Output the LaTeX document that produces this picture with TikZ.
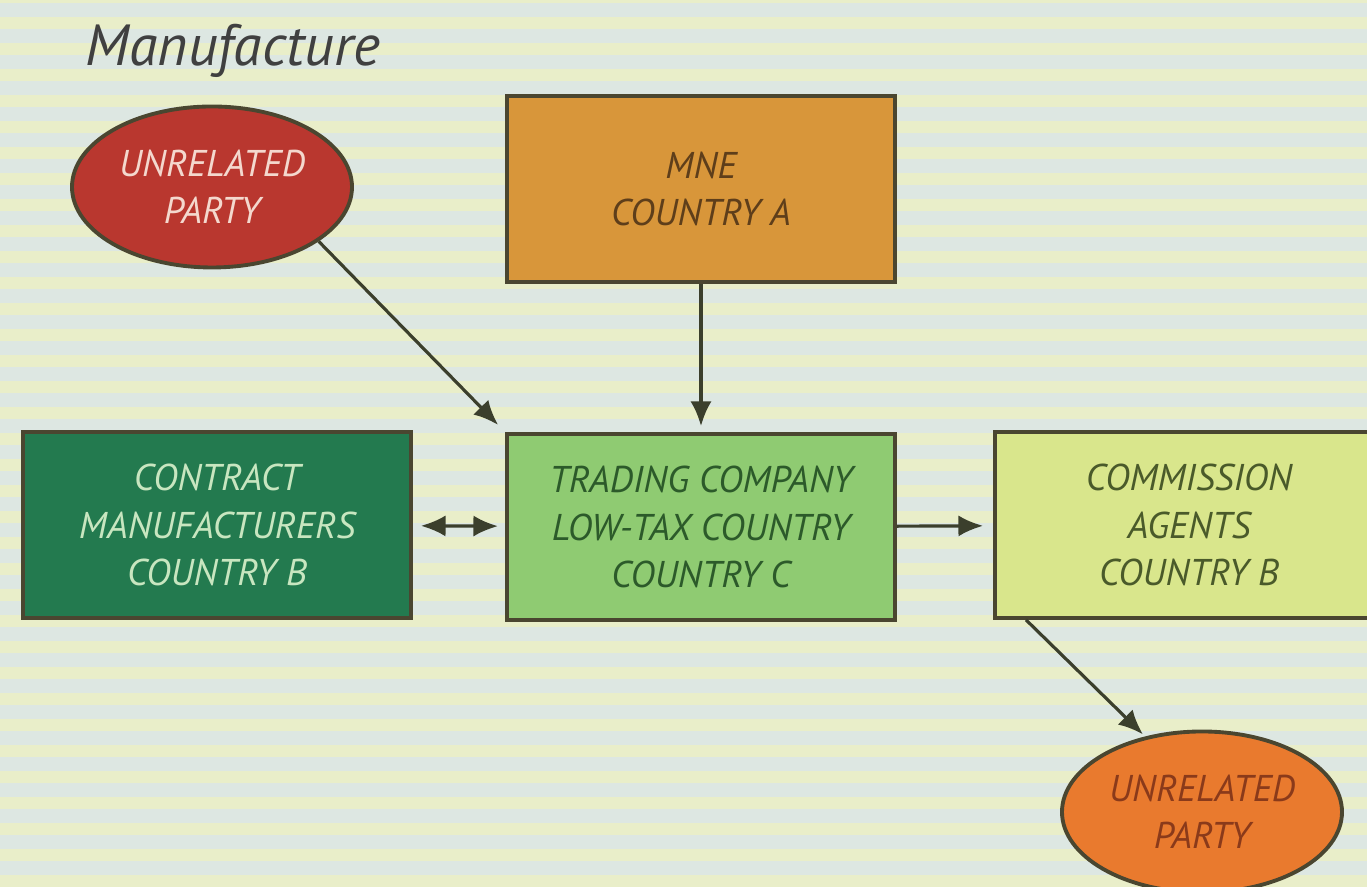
\documentclass[tikz,border=0pt]{standalone}
\usepackage{fontspec}
\setmainfont{PT Sans}
\usetikzlibrary{shapes.geometric, arrows.meta}

\definecolor{bgbase}{HTML}{DDE7E2}
\definecolor{bgstripe}{HTML}{E9EEC9}
\definecolor{redfill}{HTML}{B9372F}
\definecolor{redtext}{HTML}{F4D8CE}
\definecolor{mnefill}{HTML}{D8963A}
\definecolor{mnetext}{HTML}{5E3E1A}
\definecolor{cmfill}{HTML}{237A4F}
\definecolor{cmtext}{HTML}{C8E6C0}
\definecolor{tcfill}{HTML}{8FCB72}
\definecolor{tctext}{HTML}{2C5A2A}
\definecolor{cafill}{HTML}{D9E68C}
\definecolor{catext}{HTML}{4A5A2A}
\definecolor{orfill}{HTML}{E97A2E}
\definecolor{ortext}{HTML}{8A3A1A}
\definecolor{edge}{HTML}{4A4630}
\definecolor{arrowc}{HTML}{3B3F2C}

\tikzset{
    box/.style={draw=edge, line width=1.1pt, minimum width=3.88cm, minimum height=1.86cm,
        align=center, font=\itshape\fontsize{10.6}{13.4}\selectfont},
    party/.style={ellipse, draw=edge, line width=1.1pt, minimum width=2.8cm, minimum height=1.61cm,
        inner sep=0pt, align=center, font=\itshape\fontsize{10.6}{13.4}\selectfont},
    flow/.style={draw=arrowc, line width=0.9pt, -{Latex[length=7pt,width=6pt]}}
}

\begin{document}
\begin{tikzpicture}[>=latex]
        % ==== BACKGROUND ====
        \useasboundingbox (0,0) rectangle (13.67,8.87);
        \clip (0,0) rectangle (13.67,8.87);
        \fill[bgbase] (0,0) rectangle (13.67,8.87);
        \foreach \y in {0,0.26,...,8.9}
            \fill[bgstripe] (0,\y) rectangle (13.67,\y+0.12);

        % ==== TITLE ====
        \node[font=\itshape\fontsize{16.5}{19}\selectfont, text=black!75] (title) at (2.33,8.36) {Manufacture};

        % ==== PARTIES ====
        \node[party, fill=redfill, text=redtext] (redparty) at (2.12,7.00) {UNRELATED\\PARTY};
        \node[party, fill=orfill, text=ortext] (orparty) at (12.02,0.75) {UNRELATED\\PARTY};

        % ==== COMPANIES ====
        \node[box, fill=mnefill, text=mnetext] (mne) at (7.01,6.98) {MNE\\COUNTRY A};
        \node[box, fill=cmfill, text=cmtext] (contract) at (2.17,3.62) {CONTRACT\\MANUFACTURERS\\COUNTRY B};
        \node[box, fill=tcfill, text=tctext] (trading) at (7.01,3.60) {TRADING COMPANY\\LOW-TAX COUNTRY\\COUNTRY C};
        \node[box, fill=cafill, text=catext] (commission) at (11.89,3.62) {COMMISSION\\AGENTS\\COUNTRY B};

        % ==== FLOWS ====
        \draw[flow, shorten >=0.1cm] (redparty.-27) -- (trading.north west);
        \draw[flow, shorten >=0.06cm] (mne) -- (trading);
        \draw[flow, {Latex[length=7pt,width=6pt]}-{Latex[length=7pt,width=6pt]}, shorten <=0.08cm, shorten >=0.07cm] (contract) -- (trading);
        \draw[flow, shorten >=0.1cm] (trading) -- (commission);
        \coordinate (caout) at ([xshift=0.33cm]commission.south west);
        \draw[flow, shorten >=0.03cm] (caout) -- (orparty.127);
\end{tikzpicture}
\end{document}
